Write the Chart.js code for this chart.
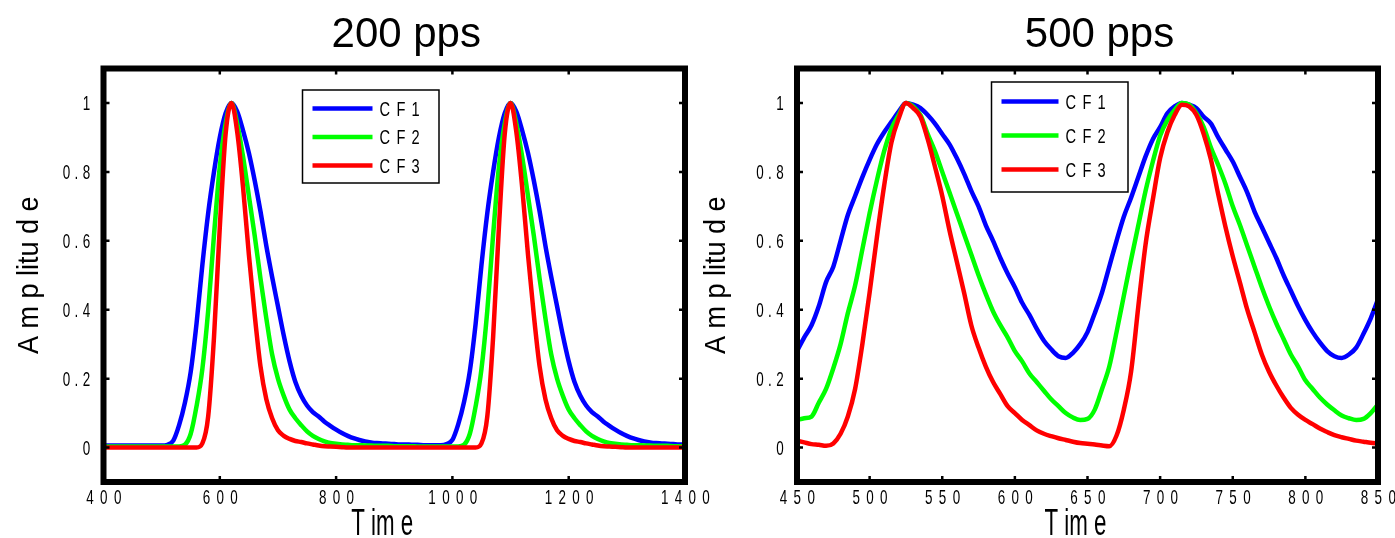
<!DOCTYPE html>
<html>
<head>
<meta charset="utf-8">
<script src="https://cdn.jsdelivr.net/npm/chart.js@4.4.1/dist/chart.umd.min.js"></script>
<style>
  html, body { margin: 0; padding: 0; background: #fff; }
  #wrap { position: relative; width: 1395px; height: 538px; overflow: hidden; }
  .panel { position: absolute; top: 0; left: 0; }
</style>
</head>
<body>
<div id="wrap">
  <canvas id="c200" class="panel" width="1395" height="538"></canvas>
  <canvas id="c500" class="panel" width="1395" height="538"></canvas>
</div>
<script>
// ---- data ----
const seriesNames = ['C F 1', 'C F 2', 'C F 3'];
const seriesColors = ['#0000ff', '#00ff00', '#ff0000'];
const ampTicks = [0, 0.2, 0.4, 0.6, 0.8, 1];

// 200 pps, time 400..1400 every 10
const time200Start = 400, time200Step = 10;
const time200Ticks = [400, 600, 800, 1000, 1200, 1400];
const cf1_200 = [
  0.006,0.006,0.006,0.006,0.006,0.006,0.006,0.006,0.006,0.006,
  0.006,0.008,0.02,0.065,0.13,0.22,0.36,0.53,0.68,0.80,
  0.90,0.97,1.0,0.975,0.92,0.855,0.775,0.685,0.585,0.495,
  0.41,0.325,0.25,0.19,0.15,0.122,0.103,0.09,0.075,0.063,
  0.052,0.042,0.034,0.027,0.022,0.018,0.015,0.013,0.012,0.011,
  0.01,0.009,0.009,0.008,0.008,0.007,0.007,0.007,0.007,0.01,
  0.022,0.067,0.132,0.222,0.36,0.53,0.68,0.80,0.90,0.97,
  1.0,0.975,0.92,0.855,0.775,0.685,0.585,0.495,0.41,0.325,
  0.25,0.19,0.15,0.122,0.103,0.09,0.075,0.063,0.052,0.042,
  0.034,0.027,0.022,0.018,0.015,0.013,0.012,0.011,0.01,0.009,
  0.009
];
const cf2_200 = [
  0.003,0.003,0.003,0.003,0.003,0.003,0.003,0.003,0.003,0.003,
  0.003,0.003,0.003,0.003,0.008,0.04,0.12,0.228,0.397,0.616,
  0.815,0.94,1.0,0.94,0.844,0.73,0.615,0.49,0.375,0.27,
  0.20,0.15,0.11,0.085,0.065,0.047,0.034,0.025,0.018,0.013,
  0.011,0.009,0.008,0.007,0.007,0.006,0.006,0.005,0.005,0.005,
  0.004,0.004,0.004,0.004,0.003,0.003,0.003,0.003,0.003,0.003,
  0.003,0.003,0.008,0.04,0.12,0.228,0.397,0.616,0.815,0.94,
  1.0,0.94,0.844,0.73,0.615,0.49,0.375,0.27,0.20,0.15,
  0.11,0.085,0.065,0.047,0.034,0.025,0.018,0.013,0.011,0.009,
  0.008,0.007,0.007,0.006,0.006,0.005,0.005,0.005,0.004,0.004,
  0.004
];
const cf3_200 = [
  0,0,0,0,0,0,0,0,0,0,
  0,0,0,0,0,0,0,0.012,0.09,0.32,
  0.64,0.91,1.0,0.915,0.755,0.56,0.385,0.235,0.14,0.085,
  0.05,0.034,0.025,0.019,0.016,0.012,0.009,0.006,0.004,0.003,
  0.002,0.001,0,0,0,0,0,0,0,0,
  0,0,0,0,0,0,0,0,0,0,
  0,0,0,0,0,0.012,0.09,0.32,0.64,0.91,
  1.0,0.915,0.755,0.56,0.385,0.235,0.14,0.085,0.05,0.034,
  0.025,0.019,0.016,0.012,0.009,0.006,0.004,0.003,0.002,0.001,
  0,0,0,0,0,0,0,0,0,0,
  0
];

// 500 pps, time 450..850 every 5
const time500Start = 450, time500Step = 5;
const time500Ticks = [450, 500, 550, 600, 650, 700, 750, 800, 850];
const cf1_500 = [
  0.28,0.32,0.355,0.41,0.48,0.525,0.60,0.675,0.73,0.785,
  0.835,0.88,0.915,0.945,0.975,1.0,0.995,0.985,0.965,0.94,
  0.91,0.88,0.84,0.795,0.745,0.70,0.645,0.60,0.55,0.505,
  0.465,0.42,0.385,0.345,0.31,0.285,0.265,0.26,0.275,0.30,
  0.335,0.39,0.45,0.525,0.60,0.67,0.725,0.785,0.845,0.895,
  0.93,0.97,0.99,1.0,0.995,0.985,0.96,0.94,0.90,0.865,
  0.83,0.785,0.74,0.685,0.64,0.595,0.55,0.50,0.455,0.41,
  0.37,0.335,0.305,0.28,0.265,0.26,0.27,0.29,0.33,0.375,
  0.43
];
const cf2_500 = [
  0.08,0.085,0.09,0.13,0.17,0.23,0.30,0.39,0.47,0.575,
  0.68,0.775,0.86,0.925,0.965,1.0,0.99,0.965,0.91,0.86,
  0.80,0.74,0.68,0.62,0.56,0.50,0.445,0.395,0.355,0.32,
  0.28,0.25,0.215,0.19,0.165,0.14,0.12,0.10,0.087,0.08,
  0.083,0.11,0.17,0.235,0.335,0.44,0.545,0.645,0.745,0.83,
  0.905,0.95,0.98,1.0,0.995,0.97,0.93,0.87,0.82,0.765,
  0.70,0.645,0.585,0.525,0.465,0.41,0.36,0.315,0.27,0.235,
  0.195,0.17,0.145,0.125,0.108,0.093,0.085,0.08,0.083,0.10,
  0.125
];
const cf3_500 = [
  0.02,0.015,0.01,0.008,0.005,0.012,0.04,0.09,0.17,0.30,
  0.45,0.61,0.76,0.885,0.955,1.0,0.985,0.96,0.895,0.815,
  0.73,0.63,0.54,0.45,0.355,0.29,0.235,0.19,0.155,0.12,
  0.10,0.08,0.065,0.05,0.04,0.033,0.027,0.022,0.017,0.013,
  0.011,0.009,0.006,0.004,0.035,0.11,0.22,0.41,0.59,0.72,
  0.84,0.915,0.965,0.995,0.99,0.965,0.91,0.835,0.735,0.64,
  0.555,0.478,0.40,0.335,0.27,0.22,0.18,0.145,0.115,0.095,
  0.08,0.068,0.055,0.045,0.036,0.03,0.025,0.02,0.017,0.014,
  0.012
];

// ---- drawing ----
const sans = "'Liberation Sans', Arial, sans-serif";
const spaced = s => String(s).split('').join(' ');

// no condensed face is installed, so squeeze the text horizontally
function narrowText(ctx, text, x, y, o) {
  ctx.save();
  ctx.translate(x, y);
  if (o.rotate) ctx.rotate(o.rotate);
  ctx.scale(o.sx, 1);
  ctx.font = o.size + 'px ' + sans;
  if ('letterSpacing' in ctx) ctx.letterSpacing = (o.ls || 0) + 'px';
  ctx.textAlign = o.align || 'center';
  ctx.textBaseline = 'alphabetic';
  ctx.fillStyle = '#000';
  ctx.fillText(text, 0, 0);
  ctx.restore();
}

// thick box with inward ticks on all four sides
const frameBox = {
  id: 'frameBox',
  afterDatasetsDraw(chart) {
    const { ctx, chartArea: a, scales: { x, y } } = chart;
    ctx.save();
    ctx.strokeStyle = '#000';
    ctx.lineWidth = 2.5;
    ctx.beginPath();
    x.ticks.forEach(t => {
      const px = x.getPixelForValue(t.value);
      ctx.moveTo(px, a.bottom); ctx.lineTo(px, a.bottom - 6);
      ctx.moveTo(px, a.top); ctx.lineTo(px, a.top + 6);
    });
    y.ticks.forEach(t => {
      const py = y.getPixelForValue(t.value);
      ctx.moveTo(a.left, py); ctx.lineTo(a.left + 6, py);
      ctx.moveTo(a.right, py); ctx.lineTo(a.right - 6, py);
    });
    ctx.stroke();
    ctx.lineWidth = 6;
    ctx.strokeRect(a.left, a.top, a.right - a.left, a.bottom - a.top);
    ctx.restore();
  }
};

// tick labels and axis titles, placed from the scales
const axisText = {
  id: 'axisText',
  afterDraw(chart, args, o) {
    const { ctx, chartArea: a, scales: { x, y } } = chart;
    x.ticks.forEach(t => {
      narrowText(ctx, spaced(t.value), x.getPixelForValue(t.value) + 1, a.bottom + 22,
        { size: 21, sx: 0.64, ls: 2 });
    });
    y.ticks.forEach(t => {
      const v = t.value;
      const txt = (v === 0 || v === 1) ? String(v) : spaced(v.toFixed(1));
      narrowText(ctx, txt, a.left - 13, y.getPixelForValue(v) + 7,
        { size: 21, sx: 0.64, ls: 0.5, align: 'right' });
    });
    narrowText(ctx, 'T im e', (a.left + a.right) / 2 - 12, 535, { size: 36, sx: 0.62 });
    narrowText(ctx, 'A m p litu d e', a.left - o.yTitleGap, (a.top + a.bottom) / 2,
      { size: 30, sx: 0.9, rotate: -Math.PI / 2 });
  }
};

// legend box inside the plot, entries in CF order
const boxLegend = {
  id: 'boxLegend',
  afterDraw(chart, args, o) {
    const { ctx } = chart;
    ctx.save();
    ctx.fillStyle = '#fff';
    ctx.fillRect(o.x, o.y, o.w, o.h);
    ctx.strokeStyle = '#000';
    ctx.lineWidth = 1.5;
    ctx.strokeRect(o.x, o.y, o.w, o.h);
    seriesNames.forEach((name, i) => {
      const ds = chart.data.datasets.find(d => d.label === name);
      const yy = o.y + o.first + i * o.gap;
      ctx.strokeStyle = ds.borderColor;
      ctx.lineWidth = 4.5;
      ctx.beginPath();
      ctx.moveTo(o.x + o.lineX0, yy);
      ctx.lineTo(o.x + o.lineX1, yy);
      ctx.stroke();
      narrowText(ctx, name, o.x + o.textX, yy + 7, { size: 19.5, sx: 0.75, ls: 1.5, align: 'left' });
    });
    ctx.restore();
  }
};

// big title above the box
const bigTitle = {
  id: 'bigTitle',
  afterDraw(chart, args, o) {
    const { ctx, chartArea: a } = chart;
    ctx.save();
    ctx.font = '42px ' + sans;
    ctx.fillStyle = '#000';
    ctx.textAlign = 'center';
    ctx.textBaseline = 'alphabetic';
    ctx.fillText(o.text, (a.left + a.right) / 2 + o.dx, o.baseline);
    ctx.restore();
  }
};

function makeChart(id, cfg) {
  const xs = cfg.series[0].map((_, i) => cfg.start + i * cfg.step);
  const datasets = cfg.series.map((vals, i) => ({
    label: seriesNames[i],
    data: vals.map((v, k) => ({ x: xs[k], y: v })),
    borderColor: seriesColors[i],
    borderWidth: 4.5,
    pointRadius: 0,
    cubicInterpolationMode: 'monotone',
    fill: false,
    order: 2 - i   // CF3 on top
  }));
  return new Chart(document.getElementById(id), {
    type: 'line',
    data: { datasets },
    options: {
      responsive: false,
      animation: false,
      devicePixelRatio: 1,
      layout: { padding: { top: 68.5, right: cfg.padRight, bottom: 0, left: 0 } },
      plugins: {
        legend: { display: false },
        tooltip: { enabled: false },
        boxLegend: cfg.legend,
        bigTitle: { text: cfg.title, dx: 12, baseline: 47 },
        axisText: { yTitleGap: cfg.yTitleGap }
      },
      scales: {
        x: {
          type: 'linear',
          min: cfg.ticks[0],
          max: cfg.ticks[cfg.ticks.length - 1],
          afterBuildTicks: s => { s.ticks = cfg.ticks.map(v => ({ value: v })); },
          afterFit: s => { s.height = 56; s.paddingLeft = 0; s.paddingRight = 0; },
          grid: { display: false },
          border: { display: false },
          ticks: { display: false }
        },
        y: {
          min: -0.1, max: 1.1,
          afterBuildTicks: s => { s.ticks = ampTicks.map(v => ({ value: v })); },
          afterFit: s => { s.width = cfg.areaLeft; s.paddingTop = 0; s.paddingBottom = 0; },
          grid: { display: false },
          border: { display: false },
          ticks: { display: false }
        }
      }
    },
    plugins: [frameBox, axisText, boxLegend, bigTitle]
  });
}

// both canvases cover the page; each chart area is placed by its padding
makeChart('c200', {
  title: '200 pps',
  start: time200Start, step: time200Step, ticks: time200Ticks,
  series: [cf1_200, cf2_200, cf3_200],
  areaLeft: 103.5, padRight: 710, yTitleGap: 66,
  legend: { x: 302.5, y: 90, w: 136.5, h: 93, first: 18.5, gap: 28.5, lineX0: 10, lineX1: 70, textX: 77 }
});

makeChart('c500', {
  title: '500 pps',
  start: time500Start, step: time500Step, ticks: time500Ticks,
  series: [cf1_500, cf2_500, cf3_500],
  areaLeft: 797, padRight: 17, yTitleGap: 72,
  legend: { x: 991.5, y: 82, w: 136.5, h: 110, first: 19.5, gap: 34, lineX0: 10, lineX1: 67, textX: 74 }
});
</script>
</body>
</html>
